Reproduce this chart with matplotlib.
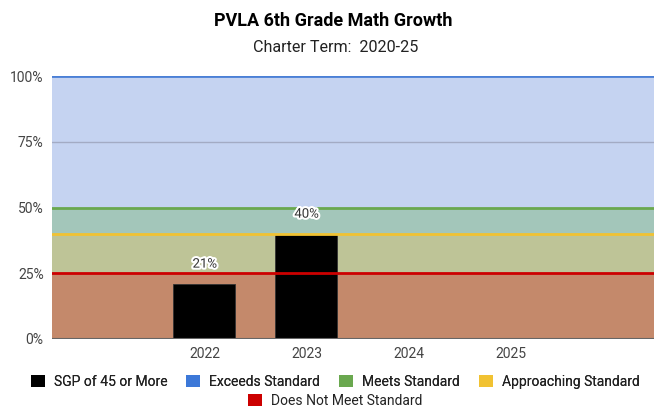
import matplotlib
matplotlib.use("Agg")
import matplotlib.pyplot as plt
import matplotlib.patheffects as pe
from matplotlib.patches import Patch

plt.rcParams['font.family'] = ['Roboto', 'DejaVu Sans']

categories = ["2022", "2023", "2024", "2025"]
sgp_values = [21, 40, None, None]

band_names = ["Exceeds Standard", "Meets Standard", "Approaching Standard", "Does Not Meet Standard"]
band_tops = [100, 50, 40, 25]
band_fill = ["#c5d3f1", "#a3c6ba", "#bec497", "#c4896b"]
band_line = ["#4a7fd6", "#6aa84f", "#f1c232", "#cc0000"]
legend_colors = ["#3c78d8", "#6aa84f", "#f1c232", "#cc0000"]

fig = plt.figure(figsize=(6.54, 4.07), dpi=100)
ax = fig.add_axes([52/654, 68/407, 1 - 52/654, (339-76)/407])

x = list(range(len(categories)))
ax.set_xlim(-1.5, 4.41)
ax.set_ylim(0, 100)

bottoms = band_tops[1:] + [0]
for top, bot, fc in zip(band_tops, bottoms, band_fill):
    ax.axhspan(bot, top, color=fc, lw=0, zorder=0)
ax.axhline(75, color="#a3abc4", lw=1, zorder=1)
for top, lc in zip(band_tops, band_line):
    ax.axhline(top, color=lc, lw=2, zorder=3)
ax.axhline(0, color="#666666", lw=1.5, zorder=4)

for xi, v in zip(x, sgp_values):
    if v is None:
        continue
    ax.bar(xi - 0.01, v, width=0.61, color="black", edgecolor="#333333", lw=0.6, zorder=2)
    ax.text(xi, v + 5, f"{v}%", ha="center", va="bottom", fontsize=9.5, color="#333333",
            zorder=5, path_effects=[pe.withStroke(linewidth=3, foreground="white")])

ax.set_xticks(x)
ax.set_xticklabels(categories, fontsize=10, color="#444444")
ax.set_yticks([0, 25, 50, 75, 100])
ax.set_yticklabels(["0%", "25%", "50%", "75%", "100%"], fontsize=10, color="#444444")
ax.tick_params(length=0, pad=6)
for s in ax.spines.values():
    s.set_visible(False)

fig.text(333.5/654, 1 - 21/407, "PVLA 6th Grade Math Growth", ha="center", va="center",
         fontsize=13, fontweight="bold", color="#000000")
fig.text(335.5/654, 1 - 47/407, "Charter Term:  2020-25", ha="center", va="center",
         fontsize=11.6, color="#222222")

h1 = [Patch(facecolor="black", label="SGP of 45 or More")] + \
     [Patch(facecolor=c, label=n) for c, n in zip(legend_colors[:3], band_names[:3])]
h2 = [Patch(facecolor=legend_colors[3], label=band_names[3])]
common = dict(frameon=False, fontsize=10, handlelength=1.0, handleheight=1.0,
              handletextpad=0.65, labelcolor="#222222", borderpad=0, borderaxespad=0)
leg1 = fig.legend(handles=h1, loc="center", bbox_to_anchor=(335/654, 1 - 382/407), ncol=4,
                  columnspacing=1.37, **common)
fig.legend(handles=h2, loc="center", bbox_to_anchor=(335/654, 1 - 401/407), ncol=1, **common)
fig.add_artist(leg1)

fig.savefig("out.png", dpi=100)
